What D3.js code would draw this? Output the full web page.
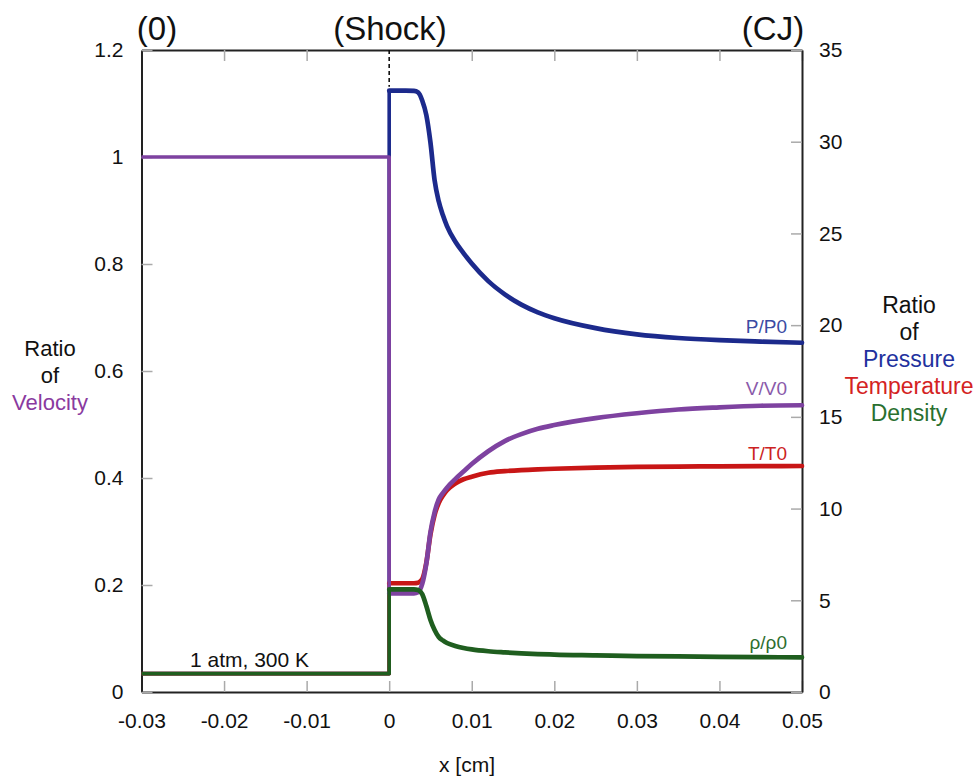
<!DOCTYPE html>
<html>
<head>
<meta charset="utf-8">
<script src="https://cdn.jsdelivr.net/npm/d3@7"></script>
<style>
  html, body { margin: 0; padding: 0; background: #fff; }
  svg { display: block; font-family: "Liberation Sans", Arial, sans-serif; }
</style>
</head>
<body>
<svg id="chart" width="975" height="778"></svg>
<script>
// Axis ticks
const xTicks = [-0.03, -0.02, -0.01, 0, 0.01, 0.02, 0.03, 0.04, 0.05];
const leftTicks = [0, 0.2, 0.4, 0.6, 0.8, 1, 1.2];
const rightTicks = [0, 5, 10, 15, 20, 25, 30, 35];

// Upstream state (x < 0): every ratio equals 1
const xUpstream = [-0.03, 0];
const upstreamRatio = 1;

// Downstream profiles, sampled along x [cm]
const xPost = [0, 0.001, 0.002, 0.003, 0.0035, 0.004, 0.0045, 0.005, 0.0055, 0.006, 0.0065,
  0.007, 0.008, 0.009, 0.010, 0.012, 0.014, 0.016, 0.018, 0.020,
  0.025, 0.030, 0.035, 0.040, 0.045, 0.050];
const pressure = [32.78, 32.78, 32.78, 32.77, 32.69, 32.25, 31.45, 29.95, 27.90, 26.75, 26.00,
  25.40, 24.56, 23.93, 23.36, 22.40, 21.68, 21.12, 20.70, 20.38,
  19.84, 19.50, 19.30, 19.18, 19.10, 19.04];
const temperature = [5.93, 5.93, 5.93, 5.93, 5.96, 6.15, 7.05, 8.60, 9.66, 10.30, 10.70,
  11.00, 11.37, 11.60, 11.74, 11.95, 12.04, 12.10, 12.14, 12.17,
  12.23, 12.27, 12.29, 12.30, 12.31, 12.32];
const velocity = [0.1845, 0.1845, 0.1845, 0.1845, 0.1865, 0.202, 0.240, 0.299, 0.336, 0.360, 0.372,
  0.382, 0.398, 0.412, 0.426, 0.450, 0.469, 0.482, 0.492, 0.499,
  0.512, 0.521, 0.528, 0.532, 0.535, 0.536];
const density = [5.60, 5.60, 5.60, 5.60, 5.56, 5.34, 4.69, 3.93, 3.38, 3.00, 2.81,
  2.67, 2.51, 2.40, 2.32, 2.22, 2.16, 2.11, 2.07, 2.04,
  2.00, 1.96, 1.94, 1.92, 1.90, 1.89];

const series = [
  { name: "P/P0", values: pressure, axis: "right", color: "#1c2a8c", labelColor: "#3b4ba3", labelY: 19.04 },
  { name: "T/T0", values: temperature, axis: "right", color: "#c81616", labelColor: "#cc2222", labelY: 12.32 },
  { name: "V/V0", values: velocity, axis: "left", color: "#7e42a0", labelColor: "#8a5aaa", labelY: 0.536 },
  { name: "ρ/ρ0", values: density, axis: "right", color: "#1f5e1f", labelColor: "#2e6e2e", labelY: 1.89 }
];

const svg = d3.select("#chart");
const m = { left: 141.5, right: 802, top: 50, bottom: 692 };

const x = d3.scaleLinear().domain([-0.03, 0.05]).range([m.left, m.right]);
const yL = d3.scaleLinear().domain([0, 1.2]).range([m.bottom, m.top]);
const yR = d3.scaleLinear().domain([0, 35]).range([m.bottom, m.top]);

const tickLen = 11;
// plain hyphen for negative numbers
const fmt = d => (d === 0 ? "0" : d3.format("~g")(d).replace("\u2212", "-"));

function styleAxis(g) {
  g.select(".domain").attr("stroke", "#222").attr("stroke-width", 2);
  g.selectAll(".tick line").attr("stroke", "#aaa").attr("stroke-width", 1.5);
  g.selectAll(".tick text").attr("fill", "#111").attr("font-size", 21)
    .attr("font-family", "Liberation Sans, Arial, sans-serif");
}

// Frame with inward ticks
svg.append("g").attr("transform", `translate(0,${m.bottom})`)
  .call(d3.axisBottom(x).tickValues(xTicks).tickFormat(fmt).tickSizeInner(-tickLen).tickSizeOuter(0).tickPadding(21))
  .call(styleAxis);
svg.append("g").attr("transform", `translate(0,${m.top})`)
  .call(d3.axisTop(x).tickValues(xTicks.filter(d => d !== 0)).tickFormat("").tickSizeInner(-tickLen).tickSizeOuter(0))
  .call(styleAxis);
svg.append("g").attr("transform", `translate(${m.left},0)`)
  .call(d3.axisLeft(yL).tickValues(leftTicks).tickFormat(fmt).tickSizeInner(-tickLen).tickSizeOuter(0).tickPadding(18))
  .call(styleAxis);
svg.append("g").attr("transform", `translate(${m.right},0)`)
  .call(d3.axisRight(yR).tickValues(rightTicks).tickFormat(fmt).tickSizeInner(-tickLen).tickSizeOuter(0).tickPadding(17))
  .call(styleAxis);

// Shock position marker
svg.append("line")
  .attr("x1", x(0)).attr("x2", x(0))
  .attr("y1", m.top).attr("y2", yR(32.78) - 4)
  .attr("stroke", "#111").attr("stroke-width", 1.6)
  .attr("stroke-dasharray", "4,3");

// Profiles: upstream step + jump (linear), downstream relaxation (smooth)
const stepLine = d3.line().x(d => x(d[0])).y(d => d[1]);
const smoothLine = d3.line().x(d => x(d[0])).y(d => d[1]).curve(d3.curveMonotoneX);

series.forEach(s => {
  const yS = s.axis === "left" ? yL : yR;
  const g = svg.append("g");
  const stepPts = xUpstream.map(xv => [xv, yS(upstreamRatio)]);
  stepPts.push([0, yS(s.values[0])]);
  g.append("path")
    .attr("d", stepLine(stepPts))
    .attr("fill", "none").attr("stroke", s.color)
    .attr("stroke-width", 3.6).attr("stroke-linejoin", "round");
  g.append("path")
    .attr("d", smoothLine(xPost.map((xv, i) => [xv, yS(s.values[i])])))
    .attr("fill", "none").attr("stroke", s.color)
    .attr("stroke-width", 4.7).attr("stroke-linejoin", "round").attr("stroke-linecap", "round");
});

// Curve labels at the CJ end
const labelDy = { "P/P0": -10, "T/T0": -6, "V/V0": -10, "ρ/ρ0": -8 };
series.forEach(s => {
  const yS = s.axis === "left" ? yL : yR;
  svg.append("text")
    .attr("x", 787).attr("y", yS(s.labelY) + labelDy[s.name])
    .attr("text-anchor", "end").attr("font-size", 19)
    .attr("fill", s.labelColor).text(s.name);
});

// Upstream conditions
svg.append("text").attr("x", 190).attr("y", 667)
  .attr("font-size", 21).attr("fill", "#111").text("1 atm, 300 K");

// State markers above the frame
const topLabels = [
  { text: "(0)", x: 157 },
  { text: "(Shock)", x: 390 },
  { text: "(CJ)", x: 773 }
];
svg.selectAll(".state").data(topLabels).join("text")
  .attr("x", d => d.x).attr("y", 40)
  .attr("text-anchor", "middle").attr("font-size", 33)
  .attr("fill", "#111").text(d => d.text);

// Axis titles
svg.append("text").attr("x", 467).attr("y", 772)
  .attr("text-anchor", "middle").attr("font-size", 21).attr("fill", "#111").text("x [cm]");

const leftTitle = [
  { t: "Ratio", c: "#111" }, { t: "of", c: "#111" }, { t: "Velocity", c: "#8a3aa0" }
];
svg.selectAll(".ltitle").data(leftTitle).join("text")
  .attr("x", 50).attr("y", (d, i) => 356 + i * 27)
  .attr("text-anchor", "middle").attr("font-size", 22)
  .attr("fill", d => d.c).text(d => d.t);

const rightTitle = [
  { t: "Ratio", c: "#111" }, { t: "of", c: "#111" }, { t: "Pressure", c: "#22319e" },
  { t: "Temperature", c: "#d42222" }, { t: "Density", c: "#2a7030" }
];
svg.selectAll(".rtitle").data(rightTitle).join("text")
  .attr("x", 909).attr("y", (d, i) => 312.5 + i * 27.2)
  .attr("text-anchor", "middle").attr("font-size", 23)
  .attr("fill", d => d.c).text(d => d.t);
</script>
</body>
</html>
